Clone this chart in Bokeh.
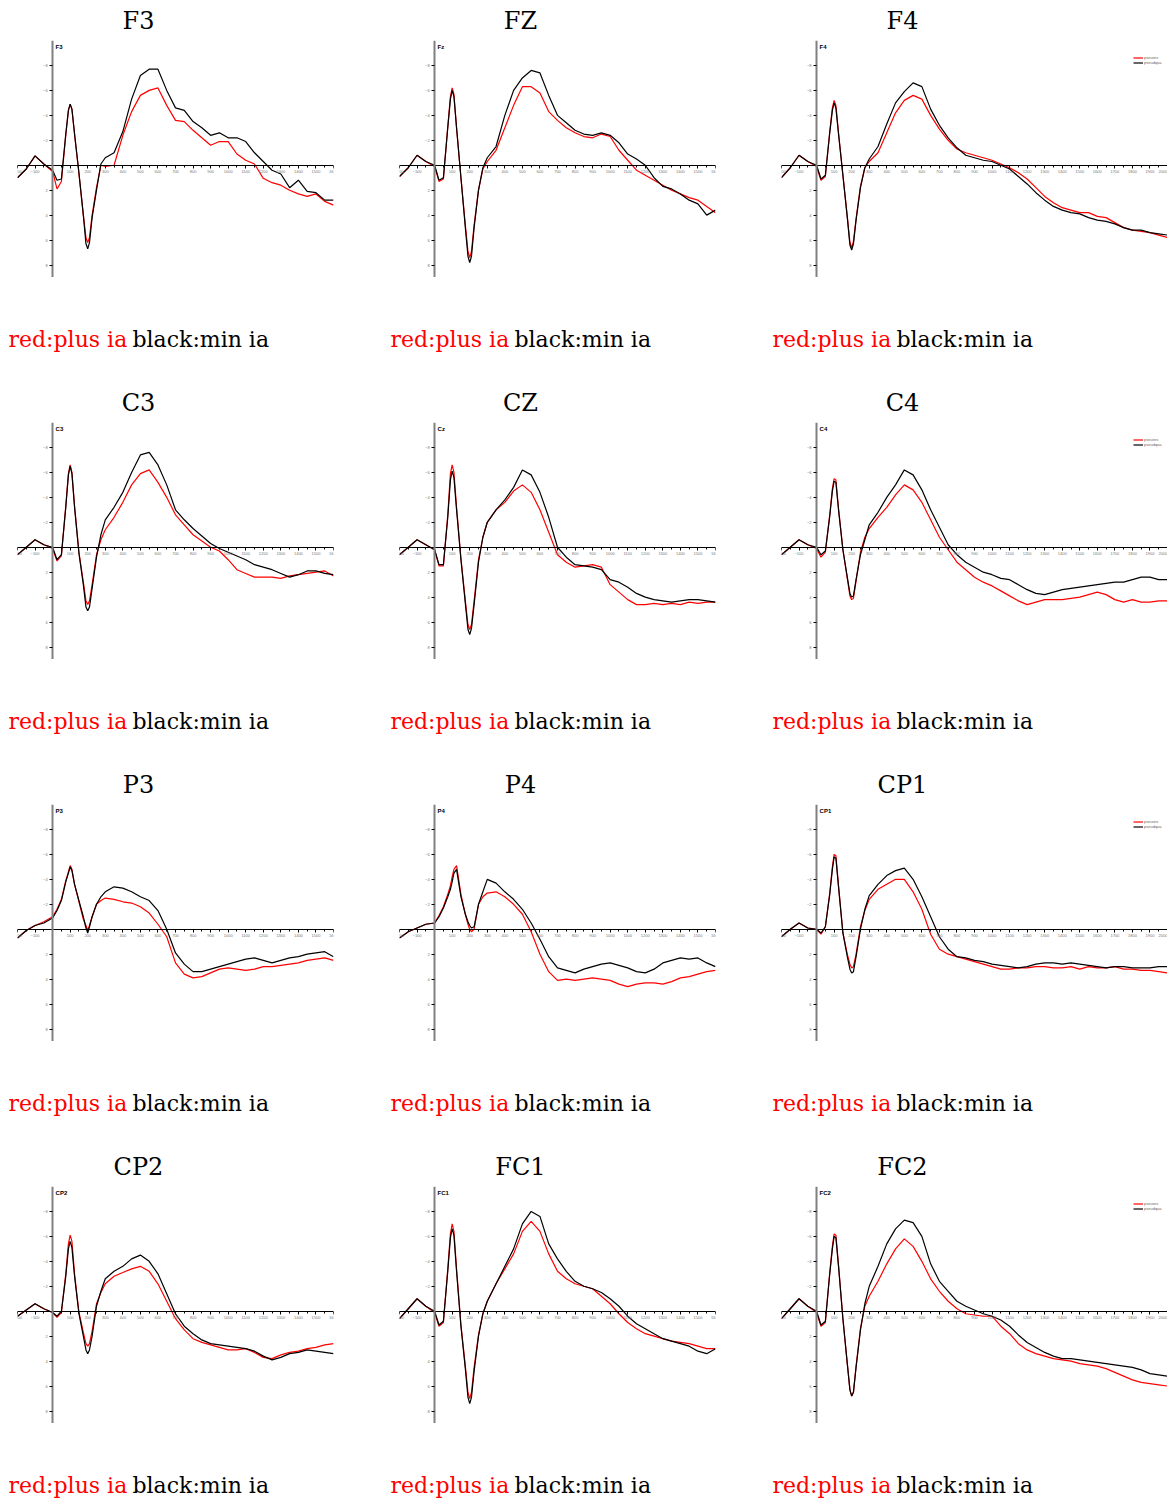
from bokeh.plotting import figure
from bokeh.models import Range1d, LinearAxis, SingleIntervalTicker, FixedTicker, Label, Legend, LegendItem
from bokeh.layouts import column, row
from bokeh.core.properties import value
from bokeh.embed import file_html
from bokeh.resources import INLINE

# time axis (ms)
TIME = [-200, -150, -100, -50, 0,
        25, 50, 75, 90, 100, 110, 125, 150, 175, 190, 200, 210, 225, 250, 275, 300,
        350, 400, 450, 500, 550, 600, 650, 700, 750, 800, 850, 900, 950, 1000,
        1050, 1100, 1150, 1200, 1250, 1300, 1350, 1400, 1450, 1500, 1550, 1600]
TIME_LONG = TIME + [1650, 1700, 1750, 1800, 1850, 1900, 1950, 2000]

TITLES = ["F3", "FZ", "F4", "C3", "CZ", "C4", "P3", "P4", "CP1", "CP2", "FC1", "FC2"]
INNER = ["F3", "Fz", "F4", "C3", "Cz", "C4", "P3", "P4", "CP1", "CP2", "FC1", "FC2"]
Y_TICKS = [-8, -6, -4, -2, 2, 4, 6, 8]
LEGEND_LABELS = ["pseures", "pseudqua"]
CAPTION_RED = "red:plus ia"
CAPTION_BLACK = "black:min ia"

# amplitudes (uV, negative up)
F3_PLUS = [1.0, 0.3, -0.75, -0.1, 0.5,
           1.9, 1.3, -2.4, -4.4, -4.9, -4.5, -2.5, 0.7, 4.0, 5.8, 6.2, 5.8, 4.0, 1.8, 0.0, 0.1,
           0.0, -2.4, -4.3, -5.6, -6.0, -6.2, -4.8, -3.6, -3.5, -2.8, -2.2, -1.6, -1.9, -1.9,
           -0.9, -0.4, -0.1, 1.05, 1.4, 1.6, 2.0, 2.3, 2.5, 2.3, 2.9, 3.2]
F3_MIN = [1.0, 0.3, -0.75, -0.1, 0.4,
          1.2, 1.1, -2.5, -4.4, -4.9, -4.5, -2.5, 0.6, 4.0, 6.3, 6.7, 6.2, 4.2, 2.0, -0.1, -0.6,
          -1.0, -2.7, -5.3, -7.2, -7.7, -7.7, -6.0, -4.6, -4.4, -3.5, -3.0, -2.4, -2.6, -2.2,
          -2.2, -1.9, -1.0, -0.3, 0.4, 0.7, 1.8, 1.2, 2.1, 2.2, 2.8, 2.8]
FZ_PLUS = [0.9, 0.2, -0.8, -0.3, 0.1,
           1.3, 1.1, -3.1, -5.5, -6.2, -5.7, -3.0, 1.0, 4.8, 6.9, 7.4, 6.9, 4.8, 2.0, 0.3, -0.3,
           -1.2, -3.0, -4.8, -6.3, -6.3, -5.8, -4.3, -3.6, -3.0, -2.6, -2.3, -2.2, -2.5, -2.3,
           -1.2, -0.4, 0.4, 0.8, 1.2, 1.6, 2.0, 2.3, 2.6, 2.8, 3.3, 3.8]
FZ_MIN = [0.9, 0.2, -0.8, -0.3, 0.0,
          1.2, 1.0, -3.0, -5.3, -6.0, -5.5, -3.0, 1.0, 5.0, 7.3, 7.8, 7.3, 5.0, 2.0, 0.2, -0.6,
          -1.5, -4.0, -6.0, -7.0, -7.6, -7.4, -5.6, -4.0, -3.4, -2.8, -2.5, -2.4, -2.6, -2.4,
          -1.8, -0.9, -0.5, 0.0, 1.0, 1.7, 1.9, 2.3, 2.8, 3.1, 4.0, 3.6]
F4_PLUS = [1.0, 0.2, -0.8, -0.3, 0.1,
           1.2, 0.9, -2.7, -4.6, -5.2, -4.8, -2.6, 0.8, 4.1, 6.2, 6.6, 6.1, 4.3, 1.7, 0.2, -0.3,
           -1.0, -2.6, -4.2, -5.2, -5.6, -5.3, -4.0, -2.9, -2.0, -1.3, -1.0, -0.8, -0.6, -0.4,
           -0.1, 0.2, 0.6, 1.1, 1.8, 2.5, 3.0, 3.4, 3.6, 3.8, 3.8, 4.1,
           4.2, 4.6, 5.0, 5.2, 5.3, 5.4, 5.6, 5.8]
F4_MIN = [1.0, 0.2, -0.8, -0.3, 0.0,
          1.1, 0.8, -2.6, -4.4, -5.0, -4.6, -2.5, 0.8, 4.2, 6.4, 6.8, 6.3, 4.4, 1.8, 0.2, -0.5,
          -1.5, -3.3, -5.0, -5.9, -6.6, -6.3, -4.5, -3.2, -2.2, -1.4, -0.8, -0.6, -0.4, -0.3,
          0.0, 0.3, 0.9, 1.5, 2.2, 2.8, 3.3, 3.6, 3.8, 3.9, 4.2, 4.4,
          4.5, 4.7, 5.0, 5.2, 5.2, 5.4, 5.5, 5.6]
C3_PLUS = [0.6, 0.0, -0.6, -0.2, 0.1,
           1.1, 0.7, -3.3, -5.9, -6.6, -6.0, -3.3, 0.4, 2.8, 4.3, 4.6, 4.3, 3.0, 0.6, -0.6, -1.4,
           -2.4, -3.6, -5.0, -5.9, -6.2, -5.2, -4.0, -2.6, -1.8, -1.0, -0.5, 0.0, 0.3, 1.0,
           1.8, 2.1, 2.4, 2.4, 2.4, 2.5, 2.3, 2.2, 2.1, 2.0, 1.9, 2.3]
C3_MIN = [0.6, 0.0, -0.6, -0.2, 0.0,
          1.0, 0.6, -3.2, -5.8, -6.5, -5.9, -3.2, 0.5, 3.0, 4.8, 5.1, 4.8, 3.3, 0.8, -1.0, -2.2,
          -3.2, -4.4, -6.0, -7.4, -7.6, -6.6, -5.0, -3.0, -2.2, -1.5, -0.9, -0.3, 0.1, 0.4,
          0.7, 1.0, 1.4, 1.6, 1.8, 2.1, 2.4, 2.2, 1.9, 1.9, 2.1, 2.2]
CZ_PLUS = [0.6, 0.0, -0.6, -0.2, 0.2,
           1.5, 1.5, -2.6, -5.9, -6.6, -6.0, -3.2, 0.9, 4.3, 6.2, 6.6, 6.2, 4.3, 1.0, -0.8, -2.0,
           -3.0, -3.6, -4.5, -5.0, -4.4, -3.0, -1.2, 0.6, 1.2, 1.6, 1.5, 1.4, 1.6, 3.0,
           3.6, 4.2, 4.6, 4.6, 4.5, 4.6, 4.5, 4.6, 4.4, 4.5, 4.4, 4.4]
CZ_MIN = [0.6, 0.0, -0.6, -0.2, 0.2,
          1.4, 1.4, -2.4, -5.4, -6.1, -5.6, -3.0, 1.0, 4.5, 6.6, 7.0, 6.5, 4.6, 1.2, -0.8, -2.0,
          -3.0, -3.8, -4.8, -6.2, -5.8, -4.4, -2.4, 0.0, 0.8, 1.4, 1.5, 1.6, 1.8, 2.6,
          2.8, 3.2, 3.7, 4.0, 4.2, 4.3, 4.4, 4.3, 4.2, 4.2, 4.3, 4.4]
C4_PLUS = [0.6, 0.0, -0.6, -0.2, 0.1,
           0.8, 0.4, -2.6, -4.7, -5.5, -5.4, -3.1, 0.2, 2.5, 3.9, 4.2, 4.1, 2.7, 0.4, -0.8, -1.5,
           -2.4, -3.2, -4.2, -5.0, -4.6, -3.6, -2.2, -0.8, 0.2, 1.2, 1.8, 2.4, 2.8, 3.1,
           3.5, 3.9, 4.3, 4.6, 4.4, 4.2, 4.2, 4.2, 4.1, 4.0, 3.8, 3.6,
           3.8, 4.2, 4.4, 4.2, 4.4, 4.4, 4.3, 4.3]
C4_MIN = [0.6, 0.0, -0.6, -0.2, 0.0,
          0.6, 0.3, -2.5, -4.5, -5.3, -5.2, -3.0, 0.2, 2.4, 3.7, 4.0, 3.9, 2.6, 0.6, -0.6, -1.8,
          -2.8, -4.0, -5.0, -6.2, -5.8, -4.6, -3.0, -1.6, -0.2, 0.6, 1.2, 1.6, 2.0, 2.2,
          2.5, 2.6, 3.0, 3.4, 3.7, 3.8, 3.6, 3.4, 3.3, 3.2, 3.1, 3.0,
          2.9, 2.8, 2.8, 2.6, 2.4, 2.4, 2.6, 2.6]
P3_PLUS = [0.7, 0.1, -0.3, -0.6, -1.0,
           -1.6, -2.4, -3.9, -4.6, -5.1, -4.8, -3.6, -2.2, -0.8, -0.3, 0.1, -0.3, -1.0, -2.0, -2.3, -2.5,
           -2.4, -2.2, -2.1, -1.8, -1.3, -0.4, 0.6, 2.7, 3.6, 3.9, 3.8, 3.5, 3.2, 3.1,
           3.2, 3.3, 3.2, 3.0, 3.0, 2.9, 2.8, 2.7, 2.5, 2.4, 2.3, 2.5]
P3_MIN = [0.7, 0.1, -0.3, -0.5, -0.9,
          -1.5, -2.3, -3.8, -4.5, -5.0, -4.7, -3.6, -2.3, -1.0, -0.1, 0.3, -0.2, -1.0, -2.0, -2.6, -3.0,
          -3.4, -3.3, -3.0, -2.6, -2.3, -1.5, 0.0, 1.9, 2.8, 3.4, 3.4, 3.2, 3.0, 2.8,
          2.6, 2.4, 2.3, 2.5, 2.7, 2.5, 2.3, 2.2, 2.0, 1.9, 1.8, 2.2]
P4_PLUS = [0.7, 0.2, -0.1, -0.4, -0.5,
           -1.1, -1.8, -2.8, -3.5, -4.2, -4.8, -5.1, -2.8, -1.2, -0.4, 0.0, 0.2, 0.0, -2.0, -2.6, -2.9,
           -3.0, -2.6, -2.0, -1.2, 0.2, 2.0, 3.4, 4.1, 4.0, 4.1, 4.0, 3.9, 4.0, 4.1,
           4.4, 4.6, 4.4, 4.3, 4.3, 4.4, 4.2, 3.9, 3.8, 3.6, 3.4, 3.3]
P4_MIN = [0.7, 0.2, -0.1, -0.4, -0.5,
          -1.0, -1.7, -2.6, -3.2, -3.8, -4.5, -4.8, -2.6, -1.2, -0.6, -0.3, -0.1, -0.2, -2.0, -3.0, -4.0,
          -3.7, -3.0, -2.4, -1.6, -0.5, 0.8, 2.2, 3.1, 3.3, 3.5, 3.2, 3.0, 2.8, 2.7,
          2.9, 3.1, 3.4, 3.5, 3.2, 2.7, 2.5, 2.3, 2.4, 2.3, 2.7, 3.0]
CP1_PLUS = [0.6, 0.0, -0.5, -0.1, 0.0,
            0.4, -0.2, -2.9, -5.0, -6.0, -5.9, -3.5, 0.3, 2.0, 2.8, 3.1, 3.0, 2.0, -0.2, -1.5, -2.4,
            -3.2, -3.6, -4.0, -4.0, -3.0, -1.6, 0.4, 1.6, 2.0, 2.2, 2.4, 2.6, 2.8, 3.0,
            3.2, 3.2, 3.1, 3.1, 3.0, 3.0, 3.1, 3.1, 3.0, 3.2, 3.0, 3.1,
            3.1, 3.0, 3.2, 3.2, 3.3, 3.3, 3.4, 3.5]
CP1_MIN = [0.6, 0.0, -0.5, -0.1, 0.0,
           0.3, -0.2, -2.8, -4.8, -5.8, -5.7, -3.4, 0.3, 2.2, 3.2, 3.5, 3.4, 2.2, 0.0, -1.6, -2.7,
           -3.6, -4.3, -4.7, -4.9, -4.0, -2.6, -1.0, 0.6, 1.6, 2.2, 2.3, 2.5, 2.6, 2.8,
           2.9, 3.0, 3.1, 3.0, 2.8, 2.7, 2.7, 2.8, 2.7, 2.8, 2.9, 3.0,
           3.1, 3.0, 3.0, 3.1, 3.1, 3.1, 3.0, 3.0]
CP2_PLUS = [0.4, -0.1, -0.6, -0.2, 0.1,
            0.5, 0.1, -3.0, -5.4, -6.1, -5.6, -3.0, 0.1, 1.7, 2.6, 2.8, 2.6, 1.6, -0.6, -1.5, -2.2,
            -2.8, -3.1, -3.4, -3.6, -3.2, -2.2, -0.8, 0.6, 1.5, 2.2, 2.5, 2.7, 2.9, 3.1,
            3.1, 3.0, 3.3, 3.7, 3.8, 3.5, 3.3, 3.2, 3.0, 2.9, 2.7, 2.6]
CP2_MIN = [0.4, -0.1, -0.6, -0.2, 0.1,
           0.4, 0.0, -2.8, -5.0, -5.6, -5.1, -2.8, 0.2, 2.0, 3.1, 3.4, 3.1, 2.0, -0.4, -1.6, -2.6,
           -3.2, -3.6, -4.2, -4.5, -4.0, -3.0, -1.4, 0.2, 1.2, 1.8, 2.3, 2.6, 2.7, 2.8,
           2.9, 3.0, 3.2, 3.6, 3.9, 3.7, 3.4, 3.3, 3.1, 3.2, 3.3, 3.4]
FC1_PLUS = [0.6, -0.2, -1.0, -0.4, 0.1,
            1.2, 0.9, -3.4, -6.2, -7.0, -6.4, -3.4, 1.1, 4.4, 6.5, 7.0, 6.5, 4.5, 1.9, 0.2, -0.8,
            -2.2, -3.4, -4.6, -6.4, -7.2, -6.4, -4.6, -3.2, -2.6, -2.2, -2.0, -1.8, -1.2, -0.6,
            0.2, 0.9, 1.4, 1.8, 2.0, 2.2, 2.4, 2.5, 2.6, 2.8, 3.0, 3.0]
FC1_MIN = [0.6, -0.2, -1.0, -0.4, 0.0,
           1.1, 0.8, -3.2, -5.9, -6.6, -6.1, -3.2, 1.2, 4.6, 6.9, 7.4, 6.9, 4.8, 2.0, 0.2, -0.8,
           -2.2, -3.6, -5.0, -7.0, -8.0, -7.6, -5.4, -4.2, -3.2, -2.4, -2.0, -1.8, -1.5, -1.0,
           -0.4, 0.4, 1.0, 1.4, 1.8, 2.2, 2.4, 2.6, 2.8, 3.2, 3.4, 3.0]
FC2_PLUS = [0.6, -0.2, -1.0, -0.4, 0.1,
            1.2, 0.9, -3.1, -5.2, -6.2, -6.1, -3.7, 0.6, 4.2, 6.3, 6.8, 6.5, 4.4, 1.4, -0.4, -1.2,
            -2.4, -3.8, -5.0, -5.8, -5.2, -4.0, -2.6, -1.6, -0.8, -0.2, 0.2, 0.3, 0.4, 0.4,
            1.2, 1.8, 2.6, 3.1, 3.4, 3.6, 3.8, 3.9, 4.0, 4.2, 4.3, 4.4,
            4.6, 4.9, 5.2, 5.5, 5.7, 5.8, 5.9, 6.0]
FC2_MIN = [0.6, -0.2, -1.0, -0.4, 0.0,
           1.1, 0.8, -3.0, -5.0, -6.0, -5.9, -3.6, 0.6, 4.2, 6.3, 6.8, 6.5, 4.5, 1.5, -0.6, -2.0,
           -3.6, -5.4, -6.6, -7.3, -7.1, -6.0, -3.8, -2.4, -1.6, -0.8, -0.4, -0.1, 0.2, 0.4,
           0.7, 1.2, 1.9, 2.5, 2.9, 3.3, 3.6, 3.8, 3.8, 3.9, 4.0, 4.1,
           4.2, 4.3, 4.4, 4.5, 4.7, 5.0, 5.1, 5.2]

PLUS = [F3_PLUS, FZ_PLUS, F4_PLUS, C3_PLUS, CZ_PLUS, C4_PLUS,
        P3_PLUS, P4_PLUS, CP1_PLUS, CP2_PLUS, FC1_PLUS, FC2_PLUS]
MINUS = [F3_MIN, FZ_MIN, F4_MIN, C3_MIN, CZ_MIN, C4_MIN,
         P3_MIN, P4_MIN, CP1_MIN, CP2_MIN, FC1_MIN, FC2_MIN]

SERIF = "DejaVu Serif"
SANS = "Liberation Sans"

TOTAL_W = 1159
COL_W = [382, 382, 395]
COL_X = [0, 382, 764]
FRAME_H = 237


def bare(width, height):
    p = figure(width=width, height=height, x_range=Range1d(0, width), y_range=Range1d(height, 0),
               x_axis_location=None, y_axis_location=None,
               min_border_left=0, min_border_right=0, min_border_top=0, min_border_bottom=0,
               toolbar_location=None, output_backend="svg", title=None)
    p.xgrid.visible = False
    p.ygrid.visible = False
    p.outline_line_color = None
    return p


def add_titles(p, r, y):
    p.text(x=[COL_X[c] + 130 for c in range(3)], y=[y] * 3,
           text=TITLES[r * 3:(r + 1) * 3], text_font=value(SERIF), text_font_size="24px",
           text_align="center", text_baseline="alphabetic", text_color="black")


def add_captions(p, y):
    p.text(x=[COL_X[c] for c in range(3)], y=[y] * 3, text=[CAPTION_RED] * 3,
           text_font=value(SERIF), text_font_size="22px", text_color="red",
           text_baseline="alphabetic", text_align="left")
    p.text(x=[COL_X[c] + 124 for c in range(3)], y=[y] * 3, text=[CAPTION_BLACK] * 3,
           text_font=value(SERIF), text_font_size="22px", text_color="black",
           text_baseline="alphabetic", text_align="left")


def make_cell(i):
    col = i % 3
    wide = col == 2
    t = TIME_LONG if wide else TIME
    assert len(PLUS[i]) == len(t) and len(MINUS[i]) == len(t), TITLES[i]
    fw = 386 if wide else 316
    width = COL_W[col]
    p = figure(width=width, height=FRAME_H,
               x_range=Range1d(-200, 2000 if wide else 1600),
               y_range=Range1d(9, -10),
               x_axis_location=None, y_axis_location=None,
               min_border_left=9, min_border_right=width - 9 - fw,
               min_border_top=0, min_border_bottom=0,
               toolbar_location=None, output_backend="svg", title=None)
    p.xgrid.visible = False
    p.ygrid.visible = False
    p.outline_line_color = None

    xa = LinearAxis(fixed_location=0, ticker=SingleIntervalTicker(interval=100, num_minor_ticks=2))
    xa.major_label_overrides = {0: ""}
    xa.axis_line_color = "black"
    xa.axis_line_width = 1.2
    xa.major_tick_out = 3
    xa.major_tick_in = 0
    xa.minor_tick_out = 2
    xa.minor_tick_in = 0
    xa.major_tick_line_color = "black"
    xa.minor_tick_line_color = "black"
    xa.major_label_text_font = SANS
    xa.major_label_text_font_size = "4px"
    xa.major_label_text_color = "#777777"
    xa.major_label_standoff = 2
    p.add_layout(xa, "below")

    ya = LinearAxis(fixed_location=0, ticker=FixedTicker(ticks=Y_TICKS, minor_ticks=[]))
    ya.axis_line_color = "#808080"
    ya.axis_line_width = 2
    ya.major_tick_out = 3
    ya.major_tick_in = 0
    ya.major_tick_line_color = "black"
    ya.minor_tick_line_color = None
    ya.major_label_text_font = SANS
    ya.major_label_text_font_size = "4px"
    ya.major_label_text_color = "#777777"
    ya.major_label_standoff = 2
    p.add_layout(ya, "left")

    r_red = p.line(t, PLUS[i], line_color="red", line_width=1.2)
    r_blk = p.line(t, MINUS[i], line_color="black", line_width=1.2)

    p.add_layout(Label(x=0, y=-10, x_offset=3, y_offset=-3, text=INNER[i],
                       text_font=SANS, text_font_size="6px", text_font_style="bold",
                       text_baseline="top", text_color="black"))

    if wide:
        leg = Legend(items=[LegendItem(label=LEGEND_LABELS[0], renderers=[r_red]),
                            LegendItem(label=LEGEND_LABELS[1], renderers=[r_blk])],
                     location=(352, 212))
        leg.label_text_font = SANS
        leg.label_text_font_size = "4px"
        leg.label_text_color = "#666666"
        leg.glyph_width = 10
        leg.glyph_height = 5
        leg.label_height = 5
        leg.label_standoff = 1
        leg.spacing = 0
        leg.padding = 0
        leg.margin = 0
        leg.border_line_color = None
        leg.background_fill_alpha = 0
        p.add_layout(leg)
    return p


blocks = []
top = bare(TOTAL_W, 40)
add_titles(top, 0, 20)
blocks.append(top)
for r in range(4):
    blocks.append(row(*[make_cell(r * 3 + c) for c in range(3)]))
    if r < 3:
        s = bare(TOTAL_W, 145)
        add_captions(s, 62)
        add_titles(s, r + 1, 125)
    else:
        s = bare(TOTAL_W, 77)
        add_captions(s, 62)
    blocks.append(s)

page = column(*blocks, margin=(0, 0, 0, 8))
open("out.html", "w").write(file_html(page, INLINE))
